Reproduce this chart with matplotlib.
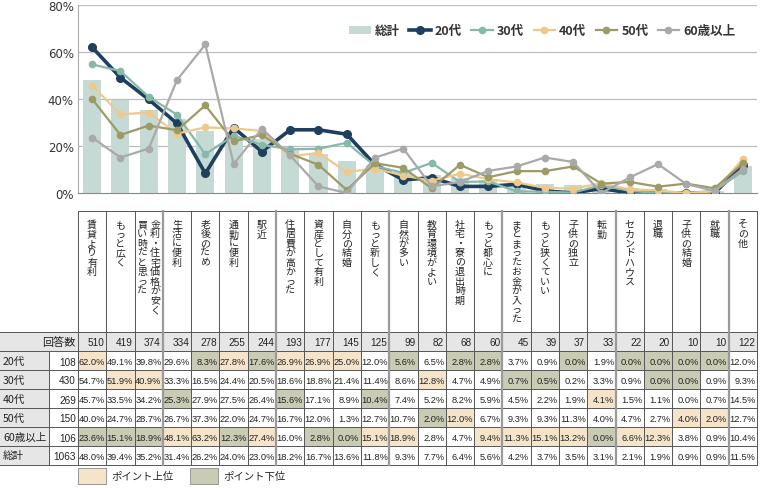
import matplotlib
matplotlib.use("Agg")
import matplotlib.pyplot as plt
from matplotlib.patches import Rectangle
import numpy as np

plt.rcParams['font.family'] = ['Noto Sans CJK JP', 'DejaVu Sans']

categories = ["賃貸より有利", "もっと広く", "金利・住宅価格が安く買い時だと思った", "生活に便利",
              "老後のため", "通勤に便利", "駅近", "住居費が高かった", "資産として有利",
              "自分の結婚", "もっと新しく", "自然が多い", "教育環境がよい", "社宅・寮の退出時期",
              "もっと都心に", "まとまったお金が入った", "もっと狭くていい", "子供の独立", "転勤",
              "セカンドハウス", "退職", "子供の結婚", "就職", "その他"]
counts = [510, 419, 374, 334, 278, 255, 244, 193, 177, 145, 125, 99, 82, 68, 60, 45, 39, 37, 33, 22, 20, 10, 10, 122]

groups = ["20代", "30代", "40代", "50代", "60歳以上"]
group_n = [108, 430, 269, 150, 106]
total_n = 1063

v20 = [62.0, 49.1, 39.8, 29.6, 8.3, 27.8, 17.6, 26.9, 26.9, 25.0, 12.0, 5.6, 6.5, 2.8, 2.8, 3.7, 0.9, 0.0, 1.9, 0.0, 0.0, 0.0, 0.0, 12.0]
v30 = [54.7, 51.9, 40.9, 33.3, 16.5, 24.4, 20.5, 18.6, 18.8, 21.4, 11.4, 8.6, 12.8, 4.7, 4.9, 0.7, 0.5, 0.2, 3.3, 0.9, 0.0, 0.0, 0.9, 9.3]
v40 = [45.7, 33.5, 34.2, 25.3, 27.9, 27.5, 26.4, 15.6, 17.1, 8.9, 10.4, 7.4, 5.2, 8.2, 5.9, 4.5, 2.2, 1.9, 4.1, 1.5, 1.1, 0.0, 0.7, 14.5]
v50 = [40.0, 24.7, 28.7, 26.7, 37.3, 22.0, 24.7, 16.7, 12.0, 1.3, 12.7, 10.7, 2.0, 12.0, 6.7, 9.3, 9.3, 11.3, 4.0, 4.7, 2.7, 4.0, 2.0, 12.7]
v60 = [23.6, 15.1, 18.9, 48.1, 63.2, 12.3, 27.4, 16.0, 2.8, 0.0, 15.1, 18.9, 2.8, 4.7, 9.4, 11.3, 15.1, 13.2, 0.0, 6.6, 12.3, 3.8, 0.9, 10.4]
total = [48.0, 39.4, 35.2, 31.4, 26.2, 24.0, 23.0, 18.2, 16.7, 13.6, 11.8, 9.3, 7.7, 6.4, 5.6, 4.2, 3.7, 3.5, 3.1, 2.1, 1.9, 0.9, 0.9, 11.5]

# highlight flags: u = ポイント上位, d = ポイント下位, - = none
hl20 = "u---d" + "uduuu" + "-d-dd" + "--d-d" + "ddd-"
hl30 = "-uu--" + "-----" + "--u--" + "dd---" + "dd--"
hl40 = "---d-" + "--d--" + "d----" + "---u-" + "----"
hl50 = "-----" + "-----" + "--du-" + "-----" + "-uu-"
hl60 = "ddduu" + "du-dd" + "uu--u" + "uuudu" + "u---"

series = [v20, v30, v40, v50, v60]
highlights = [hl20, hl30, hl40, hl50, hl60]
colors = ["#1f3f5e", "#86b9aa", "#efc98c", "#9c9b66", "#a9a9a9"]
bar_color = "#c6dad5"
up_color = "#f5e4ca"
down_color = "#c9cbb4"

W, H = 770, 489
fig = plt.figure(figsize=(W / 100, H / 100), dpi=100)

# ---------------- chart ----------------
x_left, x_right = 78, 757
y_top, y_bot = 6, 194
ax = fig.add_axes([x_left / W, 1 - y_bot / H, (x_right - x_left) / W, (y_bot - y_top) / H])
x = np.arange(len(categories))
ax.bar(x, total, width=0.64, color=bar_color, label="総計", zorder=1)
lws = [2.6, 1.6, 1.6, 1.6, 1.6]
mss = [5.5, 4.5, 4.5, 4.5, 4.5]
for vals, c, g, lw, ms in zip(series, colors, groups, lws, mss):
    ax.plot(x, vals, color=c, lw=lw, marker="o", ms=ms, label=g, zorder=3)
ax.set_xlim(-0.5, len(categories) - 0.5)
ax.set_ylim(0, 80)
ax.set_yticks([0, 20, 40, 60, 80])
ax.set_yticklabels([f"{v}%" for v in [0, 20, 40, 60, 80]], fontsize=8.5, color="#333333",
                   family=["DejaVu Sans"])
ax.tick_params(axis="y", length=0, pad=3)
ax.set_xticks([])
for v in [20, 40, 60, 80]:
    ax.axhline(v, color="#bdbdbd", lw=0.9, zorder=0)
for s in ["top", "right"]:
    ax.spines[s].set_visible(False)
ax.spines["left"].set_color("#aaaaaa")
ax.spines["bottom"].set_color("#888888")
handles, labels = ax.get_legend_handles_labels()
order = [labels.index("総計")] + [labels.index(g) for g in groups]
leg = ax.legend([handles[i] for i in order], [labels[i] for i in order], ncol=6, frameon=False,
                loc="center right", bbox_to_anchor=(0.985, 0.862),
                handlelength=1.7, handletextpad=0.35, columnspacing=0.75,
                prop={"weight": "bold", "size": 9})
for t in leg.get_texts():
    t.set_color("#333333")

# ---------------- table ----------------
tax = fig.add_axes([0, 0, 1, 1])
tax.set_xlim(0, W)
tax.set_ylim(H, 0)
tax.axis("off")

n = len(categories)
cw = (x_right - x_left) / n
col_l = [x_left + i * cw for i in range(n)]
head_top, head_bot = 212, 333
rh = 19.0
row_tops = [head_bot + k * rh for k in range(7)]
tab_bot = row_tops[-1] + rh
line_c = "#555555"
thick_c = "#9a9a9a"
label_split = 49

# header vertical labels
for i, name in enumerate(categories):
    cx = col_l[i] + cw / 2
    if len(name) > 12:
        parts = [name[:10], name[10:]]
        offs = [6.5, -6.5]
    else:
        parts = [name]
        offs = [0]
    for p, o in zip(parts, offs):
        tax.text(cx + o, 220, "\n".join(list(p)), ha="center", va="top", fontsize=7.2,
                 linespacing=0.93, color="#222222")

# backgrounds
tax.add_patch(Rectangle((0, row_tops[0]), x_right, rh, color="#e6e6e6", lw=0))
for k in range(1, 7):
    tax.add_patch(Rectangle((0, row_tops[k]), label_split, rh, color="#e6e6e6", lw=0))
for r, hl in enumerate(highlights):
    for i, f in enumerate(hl):
        if f in "ud":
            tax.add_patch(Rectangle((col_l[i], row_tops[r + 1]), cw, rh,
                                    color=up_color if f == "u" else down_color, lw=0))

# grid lines
tax.plot([x_left, x_right], [head_top, head_top], color=line_c, lw=0.7)
for y in row_tops + [tab_bot]:
    tax.plot([0, x_right], [y, y], color=line_c, lw=0.7)
for i in range(n + 1):
    xx = x_left + i * cw
    thick = i in (3, 7, 11, 15, 19, 23)
    tax.plot([xx, xx], [head_top, tab_bot], color=thick_c if thick else line_c,
             lw=1.6 if thick else 0.7)
tax.plot([label_split, label_split], [row_tops[1], tab_bot], color=line_c, lw=0.7)

num_font = ["Liberation Sans", "DejaVu Sans"]
# 回答数 row
ym = row_tops[0] + rh / 2
tax.text(x_left - 3, ym, "回答数", ha="right", va="center", fontsize=8, color="#222222")
for i, c in enumerate(counts):
    tax.text(col_l[i] + cw - 2, ym + 1, str(c), ha="right", va="center", fontsize=7.2,
             family=num_font, color="#222222")

row_names = groups + ["総計"]
row_n = group_n + [total_n]
row_vals = series + [total]
for r in range(6):
    ym = row_tops[r + 1] + rh / 2
    tax.text(3, ym, row_names[r], ha="left", va="center", fontsize=7.6, color="#222222")
    tax.text(x_left - 2, ym + 1, str(row_n[r]), ha="right", va="center", fontsize=7.2,
             family=num_font, color="#222222")
    for i, v in enumerate(row_vals[r]):
        tax.text(col_l[i] + cw - 1.5, ym + 1, f"{v:.1f}%", ha="right", va="center",
                 fontsize=6.7, family=num_font, color="#222222")

# bottom legend
tax.add_patch(Rectangle((78, 469), 28, 16, facecolor=up_color, edgecolor="#999999", lw=0.7))
tax.text(111, 477, "ポイント上位", ha="left", va="center", fontsize=7.5, color="#222222")
tax.add_patch(Rectangle((190, 469), 28, 16, facecolor=down_color, edgecolor="#999999", lw=0.7))
tax.text(223, 477, "ポイント下位", ha="left", va="center", fontsize=7.5, color="#222222")

fig.savefig("out.png", dpi=100)
